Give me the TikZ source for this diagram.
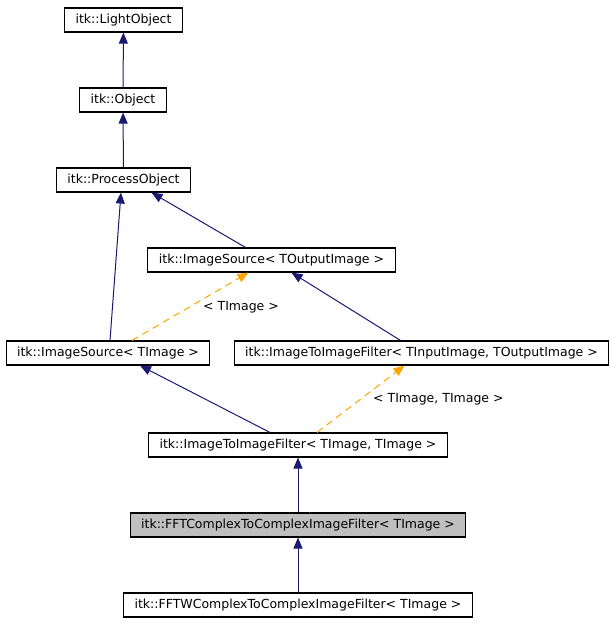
\documentclass[tikz,border=0pt]{standalone}
\usepackage{fontspec}
\setmainfont{DejaVu Sans}
\usetikzlibrary{arrows.meta, positioning}
\definecolor{edgeblue}{RGB}{25,25,112}
\definecolor{tmplorange}{RGB}{255,165,0}
\definecolor{curgray}{RGB}{191,191,191}

\begin{document}
\begin{tikzpicture}[
    x=1pt, y=-1pt,
    cls/.style={rectangle, draw, line width=1.1pt, fill=white, minimum height=24pt, inner xsep=11pt, inner ysep=0pt, font=\fontsize{12.5}{14}\selectfont},
    cur/.style={cls, fill=curgray},
    inherit/.style={-{Triangle[length=11pt,width=9pt]}, edgeblue, line width=1pt},
    tmpl/.style={-{Triangle[length=11pt,width=9pt]}, tmplorange, line width=1pt, dash pattern=on 7pt off 5pt},
    lbl/.style={anchor=west, inner sep=0pt, font=\fontsize{12.5}{14}\selectfont}
]
\useasboundingbox (0,0) rectangle (616,627);

\node[cls] (light) at (123.5,20) {itk::LightObject};
\node[cls] (object) at (123,100) {itk::Object};
\node[cls] (proc) at (123.5,180) {itk::ProcessObject};
\node[cls] (srcout) at (271.5,260) {itk::ImageSource< TOutputImage >};
\node[cls] (srcimg) at (108,353) {itk::ImageSource< TImage >};
\node[cls] (iioout) at (421.5,353) {itk::ImageToImageFilter< TInputImage, TOutputImage >};
\node[cls] (iiimg) at (298,445) {itk::ImageToImageFilter< TImage, TImage >};
\node[cur] (fft) at (298,525) {itk::FFTComplexToComplexImageFilter< TImage >};
\node[cls] (fftw) at (298,605) {itk::FFTWComplexToComplexImageFilter< TImage >};

\draw[inherit] (object) -- (light);
\draw[inherit] (proc) -- (object);
\draw[inherit] ([xshift=2pt]srcimg.north) -- ([xshift=-2.5pt]proc.south);
\draw[inherit] ([xshift=-26pt]srcout.north) -- ([xshift=28pt]proc.south);
\draw[tmpl] ([xshift=24pt]srcimg.north) -- ([xshift=-23pt]srcout.south);
\draw[inherit] ([xshift=-21pt]iioout.north) -- ([xshift=20pt]srcout.south);
\draw[inherit] ([xshift=-28pt]iiimg.north) -- ([xshift=32pt]srcimg.south);
\draw[tmpl] ([xshift=19pt]iiimg.north) -- ([xshift=-17pt]iioout.south);
\draw[inherit] (fft) -- (iiimg);
\draw[inherit] (fftw) -- (fft);

\node[lbl] (lblsrc) at (203,307) {< TImage >};
\node[lbl] (lbliio) at (373,399) {< TImage, TImage >};

\end{tikzpicture}
\end{document}
